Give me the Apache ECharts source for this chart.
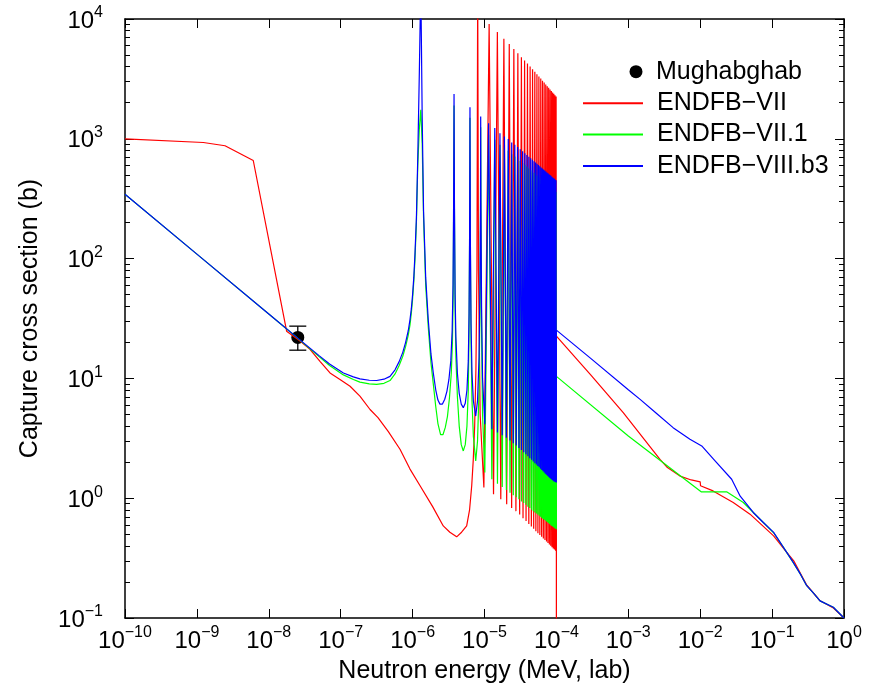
<!DOCTYPE html>
<html><head><meta charset="utf-8">
<script src="https://cdn.jsdelivr.net/npm/echarts@6/dist/echarts.min.js"></script>
<style>html,body{margin:0;padding:0;background:#fff}#c{width:874px;height:691px}</style>
</head><body><div id="c"></div>
<script>
// ---------------- data (energies in MeV unless noted eV) ----------------
const xTickVals = [1e-10,1e-9,1e-8,1e-7,1e-6,1e-5,1e-4,1e-3,1e-2,1e-1,1];
const yMajorVals = [0.1,1,10,100,1000,10000];
const yMinorVals = [0.2,0.3,0.4,0.5,0.6,0.7,0.8,0.9,2,3,4,5,6,7,8,9,20,30,40,50,60,70,80,90,200,300,400,500,600,700,800,900,2000,3000,4000,5000,6000,7000,8000,9000];

// Mughabghab thermal point
const mughE = [2.53e-8];
const mughXS = [22.0];
const mughLo = [17.2];
const mughHi = [27.3];

// ENDFB-VII (red)
const redLowE  = [1e-10,1.23e-9,2.46e-9,6.08e-9,1.77e-8,2.72e-8,3.74e-8,5.15e-8,7.1e-8,9.77e-8,1.35e-7,1.85e-7,2.56e-7,3.3e-7,4.6e-7,6.68e-7,9.2e-7,1.27e-6,1.9e-6,2.67e-6,3.3e-6,4.1e-6,4.8e-6,5.65e-6,6.2e-6,6.64e-6,6.98e-6,7.3e-6,7.6e-6,7.85e-6,8.04e-6,8.25e-6,8.7e-6];
const redLowXS = [1000,931,875,659,24.8,20.5,17.5,13.9,11.1,9.8,8.6,7.12,5.5,4.7,3.6,2.56,1.75,1.27,0.85,0.587,0.52,0.476,0.52,0.587,0.8,1.27,2.1,4,12,80,20000,80,5];
const redResE_eV = [11.6,15.1,18.6,22.1,25.6,29.1,32.6,36.1,39.6,43.1,46.6,50.1,53.6,57.1,60.6,64.1,67.6,71.1,74.6,78.1,81.6,85.1,88.6,92.1,95.6,99.1];
const redPeak = [9083,7795,6850,6190,5620,5180,4790,4495,4245,4010,3813,3630,3464,3314,3180,3057,2946,2845,2751,2664,2584,2509,2440,2375,2314,2256];
const redValE_eV = [9.8,13.35,16.85,20.35,23.85,27.35,30.85,34.35,37.85,41.35,44.85,48.35,51.85,55.35,58.85,62.35,65.85,69.35,72.85,76.35,79.85,83.35,86.85,90.35,93.85,97.35,99.9];
const redVal = [1.23,1.08,0.98,0.89,0.83,0.78,0.73,0.68,0.645,0.61,0.58,0.555,0.53,0.51,0.492,0.476,0.46,0.447,0.435,0.423,0.411,0.40,0.39,0.381,0.373,0.365,0.36];
const redHighE  = [1e-4,1e-4,3e-4,8.5e-4,2e-3,2.76e-3,3.5e-3,5.24e-3,7.5e-3,1.0e-2,1.01e-2,1.51e-2,2.88e-2,4.93e-2,0.105,0.15,0.2,0.3,0.46,0.7,1.0];
const redHighXS = [0.01,22.5,10.7,5.17,2.70,2.11,1.8,1.53,1.42,1.37,1.27,1.15,0.92,0.736,0.485,0.37,0.30,0.19,0.14,0.122,0.1];

// resonance energies shared by ENDFB-VII.1 and ENDFB-VIII.b3 (eV)
const sharedResE_eV = [11.4,13.9,16.4,18.9,21.4,23.9,26.4,28.9,31.4,33.9,36.4,38.9,41.4,43.9,46.4,48.9,51.4,53.9,56.4,58.9,61.4,63.9,66.4,68.9,71.4,73.9,76.4,78.9,81.4,83.9,86.4,88.9,91.4,93.9,96.4,98.9];
const sharedValE_eV = [12.65,15.15,17.65,20.15,22.65,25.15,27.65,30.15,32.65,35.15,37.65,40.15,42.65,45.15,47.65,50.15,52.65,55.15,57.65,60.15,62.65,65.15,67.65,70.15,72.65,75.15,77.65,80.15,82.65,85.15,87.65,90.15,92.65,95.15,97.65,99.9];

// ENDFB-VII.1 (green)
const greenLowE  = [1e-10,1e-9,1e-8,2.53e-8,5e-8,7e-8,1.09e-7,1.5e-7,1.85e-7,2.5e-7,3.16e-7,4e-7,4.85e-7,5.7e-7,6.5e-7,7.3e-7,8e-7,8.7e-7,9.2e-7,9.6e-7,1.0e-6,1.04e-6,1.08e-6,1.13e-6,1.18e-6,1.24e-6,1.3e-6,1.36e-6,1.42e-6,1.52e-6,1.65e-6,1.8e-6,1.94e-6,2.1e-6,2.25e-6,2.45e-6,2.65e-6,2.85e-6,3.05e-6,3.25e-6,3.45e-6,3.58e-6,3.67e-6,3.72e-6,3.77e-6,3.82e-6,3.9e-6,4.0e-6,4.2e-6,4.45e-6,4.75e-6,5.07e-6,5.4e-6,5.7e-6,5.95e-6,6.1e-6,6.2e-6,6.28e-6,6.36e-6,6.5e-6,6.7e-6,7.0e-6,7.55e-6,8.0e-6,8.4e-6,8.65e-6,8.8e-6,8.85e-6,8.92e-6,9.1e-6,9.4e-6,10.1e-6];
const greenLowXS = [345,109,34.5,21.6,15.2,12.8,10.7,9.8,9.3,9.0,8.9,9.1,9.6,10.9,12.8,15.3,18.5,23,28,35,46,65,100,200,600,1200,1746,900,220,60,27,13.5,9.0,5.8,4.2,3.4,3.4,3.9,4.8,6.8,11,20,50,250,1900,250,40,15,7,4,2.8,2.48,2.8,4,8,25,130,1500,130,20,6.5,3.3,2.05,3,8,40,250,1250,250,25,5,1.64];
const greenPeak = [1080,980,890,836,795,744,713,683,654,629,606,586,566,550,534,520,506,494,482,472,462,452,443,435,427,419,412,405,398,393,386,381,375,370,365,360];
const greenVal = [1.44,1.32,1.24,1.17,1.11,1.06,1.02,0.98,0.94,0.91,0.88,0.85,0.83,0.80,0.78,0.76,0.745,0.73,0.715,0.70,0.685,0.67,0.66,0.65,0.64,0.63,0.62,0.61,0.60,0.59,0.585,0.575,0.57,0.56,0.555,0.55];
const greenHighE  = [1e-4,1e-3,1.03e-2,2.33e-2,3.98e-2,6.43e-2,0.105,0.143,0.197,0.25,0.303,0.374,0.464,0.71,1.0];
const greenHighXS = [10.4,3.3,1.13,1.13,0.92,0.69,0.515,0.39,0.29,0.23,0.186,0.162,0.139,0.123,0.1];

// ENDFB-VIII.b3 (blue)
const blueLowE  = [1e-10,1e-9,1e-8,2.53e-8,5e-8,7e-8,1.09e-7,1.5e-7,1.85e-7,2.5e-7,3.16e-7,4e-7,4.85e-7,5.7e-7,6.5e-7,7.3e-7,8e-7,8.7e-7,9.2e-7,9.6e-7,1.0e-6,1.04e-6,1.08e-6,1.13e-6,1.18e-6,1.24e-6,1.3e-6,1.36e-6,1.42e-6,1.52e-6,1.65e-6,1.8e-6,1.94e-6,2.1e-6,2.25e-6,2.4e-6,2.6e-6,2.8e-6,3.0e-6,3.2e-6,3.4e-6,3.55e-6,3.65e-6,3.72e-6,3.77e-6,3.82e-6,3.9e-6,4.0e-6,4.2e-6,4.45e-6,4.75e-6,5.07e-6,5.4e-6,5.7e-6,5.95e-6,6.1e-6,6.2e-6,6.28e-6,6.36e-6,6.5e-6,6.7e-6,7.0e-6,7.55e-6,8.0e-6,8.4e-6,8.65e-6,8.8e-6,8.85e-6,8.92e-6,9.1e-6,9.4e-6,10.1e-6];
const blueLowXS = [345,109,34.5,21.7,15.5,13.2,11.1,10.3,9.9,9.65,9.6,9.85,10.4,11.8,13.8,16.5,20,25,31,38,50,70,111,220,700,3500,20000,1500,250,70,31,16,11.1,8,6.6,6.1,6.1,6.7,7.8,9.8,14,25,60,300,2370,300,50,22,11,7.5,6.1,5.7,6.2,8,14,35,150,1836,150,28,11,6.5,4.85,6.5,15,60,300,1535,300,40,10,4.14];
const bluePeak = [1350,1228,1114,1045,994,930,891,854,818,786,757,732,708,687,668,650,633,618,603,590,577,565,554,544,534,524,515,507,498,491,483,476,469,463,456,450];
const blueVal = [3.76,3.53,3.35,3.2,3.03,2.88,2.75,2.63,2.52,2.42,2.33,2.24,2.16,2.09,2.02,1.96,1.91,1.86,1.81,1.76,1.72,1.68,1.64,1.60,1.57,1.54,1.51,1.48,1.46,1.44,1.42,1.40,1.38,1.37,1.36,1.35];
const blueHighE  = [1e-4,3e-4,1e-3,1.46e-3,2.5e-3,4.2e-3,7.2e-3,1.05e-2,1.61e-2,2.74e-2,3.6e-2,5.47e-2,7.55e-2,0.105,0.143,0.197,0.25,0.303,0.374,0.464,0.71,1.0];
const blueHighXS = [25.3,14.7,8.05,6.68,5.07,3.88,3.1,2.73,2.05,1.44,1.04,0.76,0.627,0.518,0.39,0.291,0.23,0.186,0.162,0.139,0.123,0.1];

// ---------------- build series data ----------------
const EV = 1e-6;
function zip(a, b) { return a.map((v, i) => [v, b[i]]); }
function redData() {
  const d = zip(redLowE, redLowXS);
  for (let i = 0; i < redResE_eV.length; i++) {
    d.push([redValE_eV[i] * EV, redVal[i]]);
    d.push([redResE_eV[i] * EV, redPeak[i]]);
  }
  const last = redValE_eV.length - 1;
  d.push([redValE_eV[last] * EV, redVal[last]]);
  return d.concat(zip(redHighE, redHighXS));
}
function resData(lowE, lowXS, peak, val, highE, highXS) {
  const d = zip(lowE, lowXS);
  for (let i = 0; i < sharedResE_eV.length; i++) {
    d.push([sharedResE_eV[i] * EV, peak[i]]);
    d.push([sharedValE_eV[i] * EV, val[i]]);
  }
  return d.concat(zip(highE, highXS));
}

const FONT = '"Liberation Sans", Arial, Helvetica, sans-serif';
const MINUS = '\u2212';
function powLabel(v) {
  const e = Math.round(Math.log10(v));
  const s = e < 0 ? MINUS + (-e) : String(e);
  return '{b|10}{s|' + s + '}';
}
const labelRich = {
  b: { fontSize: 24, lineHeight: 28, verticalAlign: 'bottom', fontFamily: FONT, color: '#000' },
  s: { fontSize: 16, lineHeight: 14, verticalAlign: 'top', fontFamily: FONT, color: '#000' }
};
const axisLineStyle = { color: '#000', width: 1.5 };
const legendText = { fontSize: 25, fontFamily: FONT, color: '#000' };

const chart = echarts.init(document.getElementById('c'), null, { renderer: 'canvas' });
chart.setOption({
  animation: false,
  backgroundColor: '#fff',
  grid: { left: 125, right: 30, top: 19, bottom: 73, containLabel: false },
  xAxis: [
    {
      type: 'log', logBase: 10, min: 1e-10, max: 1, position: 'bottom',
      axisLine: { show: true, onZero: false, lineStyle: axisLineStyle },
      axisTick: { show: true, inside: true, length: 9, lineStyle: { color: '#000', width: 1 }, customValues: xTickVals },
      axisLabel: { show: true, customValues: xTickVals, formatter: powLabel, rich: labelRich, margin: 7, hideOverlap: false },
      splitLine: { show: false }, minorTick: { show: false },
      name: 'Neutron energy (MeV, lab)', nameLocation: 'middle', nameGap: 41,
      nameTextStyle: { fontSize: 25, fontFamily: FONT, color: '#000' }
    },
    {
      type: 'log', logBase: 10, min: 1e-10, max: 1, position: 'top',
      axisLine: { show: true, onZero: false, lineStyle: axisLineStyle },
      axisTick: { show: true, inside: true, length: 9, lineStyle: { color: '#000', width: 1 }, customValues: xTickVals },
      axisLabel: { show: false }, splitLine: { show: false }
    }
  ],
  yAxis: [
    {
      type: 'log', logBase: 10, min: 0.1, max: 10000, position: 'left',
      axisLine: { show: true, onZero: false, lineStyle: axisLineStyle },
      axisTick: { show: true, inside: true, length: 9, lineStyle: { color: '#000', width: 1 }, customValues: yMajorVals },
      axisLabel: { show: true, customValues: yMajorVals, formatter: powLabel, rich: labelRich, margin: 22, hideOverlap: false },
      splitLine: { show: false },
      name: 'Capture cross section (b)', nameLocation: 'middle', nameGap: 82,
      nameTextStyle: { fontSize: 25, fontFamily: FONT, color: '#000' }
    },
    {
      type: 'log', logBase: 10, min: 0.1, max: 10000, position: 'left',
      axisLine: { show: false },
      axisTick: { show: true, inside: true, length: 5, lineStyle: { color: '#000', width: 1 }, customValues: yMinorVals },
      axisLabel: { show: false }, splitLine: { show: false }
    },
    {
      type: 'log', logBase: 10, min: 0.1, max: 10000, position: 'right',
      axisLine: { show: true, onZero: false, lineStyle: axisLineStyle },
      axisTick: { show: true, inside: true, length: 9, lineStyle: { color: '#000', width: 1 }, customValues: yMajorVals },
      axisLabel: { show: false }, splitLine: { show: false }
    },
    {
      type: 'log', logBase: 10, min: 0.1, max: 10000, position: 'right',
      axisLine: { show: false },
      axisTick: { show: true, inside: true, length: 5, lineStyle: { color: '#000', width: 1 }, customValues: yMinorVals },
      axisLabel: { show: false }, splitLine: { show: false }
    }
  ],
  legend: [
    {
      data: ['Mughabghab'], orient: 'vertical', left: 629.5, top: 59.2, padding: 0,
      itemWidth: 26, itemHeight: 13, icon: 'circle', selectedMode: false,
      itemStyle: { color: '#000', opacity: 1 },
      textStyle: Object.assign({ padding: [0, 0, 0, 2] }, legendText)
    },
    {
      data: ['ENDFB' + MINUS + 'VII', 'ENDFB' + MINUS + 'VII.1', 'ENDFB' + MINUS + 'VIII.b3'],
      orient: 'vertical', left: 582, top: 90.8, padding: 0,
      itemWidth: 60, itemHeight: 14, itemGap: 6.3, selectedMode: false,
      itemStyle: { opacity: 0 },
      textStyle: Object.assign({ padding: [0, 0, 0, 9] }, legendText)
    }
  ],
  series: [
    {
      name: 'Mughabghab', type: 'scatter', symbol: 'circle', symbolSize: 13,
      itemStyle: { color: '#000', opacity: 1 }, data: zip(mughE, mughXS), z: 2
    },
    {
      name: 'errbar', type: 'custom', z: 2,
      data: mughE.map((e, i) => [e, mughXS[i], mughLo[i], mughHi[i]]),
      renderItem: function (params, api) {
        const lo = api.coord([api.value(0), api.value(2)]);
        const hi = api.coord([api.value(0), api.value(3)]);
        const w = 8.5;
        const st = { stroke: '#000', lineWidth: 1.3 };
        return { type: 'group', children: [
          { type: 'line', shape: { x1: lo[0], y1: lo[1], x2: hi[0], y2: hi[1] }, style: st },
          { type: 'line', shape: { x1: lo[0] - w, y1: lo[1], x2: lo[0] + w, y2: lo[1] }, style: st },
          { type: 'line', shape: { x1: hi[0] - w, y1: hi[1], x2: hi[0] + w, y2: hi[1] }, style: st }
        ] };
      }
    },
    {
      name: 'ENDFB' + MINUS + 'VII', type: 'line', showSymbol: false, symbol: 'none',
      lineStyle: { color: '#ff0000', width: 1.2 }, itemStyle: { color: '#ff0000' },
      data: redData(), z: 3
    },
    {
      name: 'ENDFB' + MINUS + 'VII.1', type: 'line', showSymbol: false, symbol: 'none',
      lineStyle: { color: '#00ff00', width: 1.2 }, itemStyle: { color: '#00ff00' },
      data: resData(greenLowE, greenLowXS, greenPeak, greenVal, greenHighE, greenHighXS), z: 3
    },
    {
      name: 'ENDFB' + MINUS + 'VIII.b3', type: 'line', showSymbol: false, symbol: 'none',
      lineStyle: { color: '#0000ff', width: 1.2 }, itemStyle: { color: '#0000ff' },
      data: resData(blueLowE, blueLowXS, bluePeak, blueVal, blueHighE, blueHighXS), z: 3
    }
  ]
});
</script></body></html>
